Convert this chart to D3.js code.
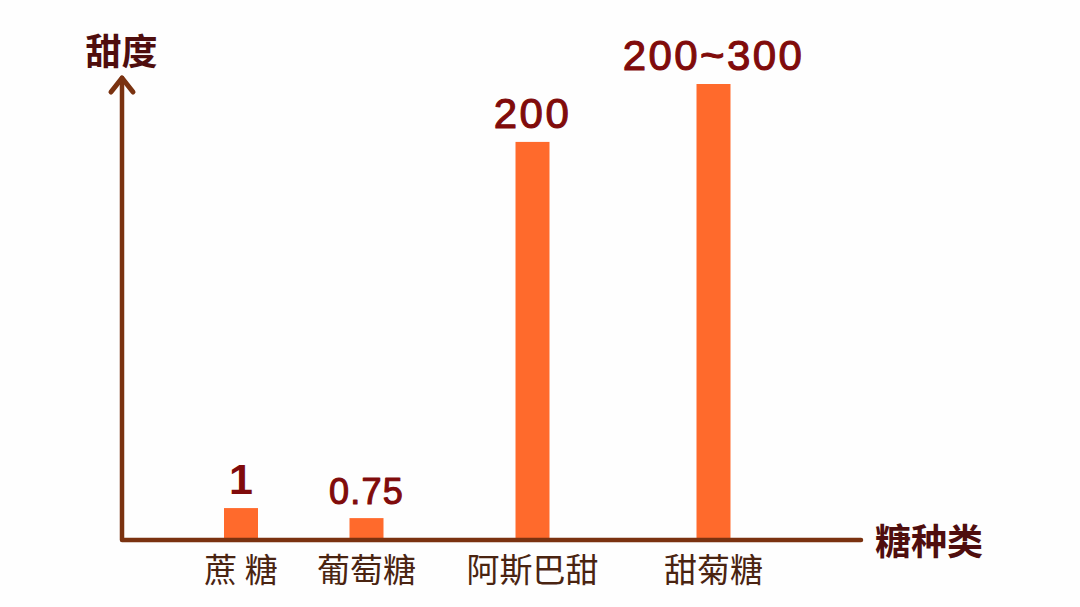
<!DOCTYPE html>
<html>
<head>
<meta charset="utf-8">
<script src="https://cdn.jsdelivr.net/npm/d3@7"></script>
<style>
  html, body { margin: 0; padding: 0; background: #fefefe; }
  svg { display: block; }
</style>
</head>
<body>
<script>
// ---- data ----
const categories = ["蔗 糖", "葡萄糖", "阿斯巴甜", "甜菊糖"];
const valueLabels = ["1", "0.75", "200", "200~300"];
// drawn bar height on a 0–100 relative scale (the picture is illustrative, not proportional)
const barHeights = [7, 4.8, 87.3, 100];
const yAxisTitle = "甜度";
const xAxisTitle = "糖种类";

// ---- layout ----
const W = 1080, H = 607;
const originX = 122, originY = 540;
const xAxisEnd = 861, yAxisTop = 78;
const barW = 34;
const catCenters = [241, 366.5, 532.5, 713.5];

const svg = d3.select("body").append("svg")
  .attr("width", W).attr("height", H);

svg.append("rect").attr("width", W).attr("height", H).attr("fill", "#fefefe");

const x = d3.scaleOrdinal().domain(categories).range(catCenters);
const y = d3.scaleLinear().domain([0, 100]).range([originY, 84]);

const axisColor = "#7a3210";

// bars
svg.selectAll("rect.bar").data(categories).join("rect")
  .attr("class", "bar")
  .attr("x", d => x(d) - barW / 2)
  .attr("width", barW)
  .attr("y", (d, i) => y(barHeights[i]))
  .attr("height", (d, i) => originY - y(barHeights[i]))
  .attr("fill", "#ff6a2c");

// axes
const axisPath = d3.path();
axisPath.moveTo(originX, yAxisTop);
axisPath.lineTo(originX, originY);
axisPath.lineTo(xAxisEnd, originY);
svg.append("path").attr("d", axisPath.toString())
  .attr("fill", "none").attr("stroke", axisColor)
  .attr("stroke-width", 4.5).attr("stroke-linecap", "round").attr("stroke-linejoin", "round");

// arrow head
const arrow = d3.path();
arrow.moveTo(originX - 11, yAxisTop + 14);
arrow.lineTo(originX, yAxisTop);
arrow.lineTo(originX + 11, yAxisTop + 14);
svg.append("path").attr("d", arrow.toString())
  .attr("fill", "none").attr("stroke", axisColor)
  .attr("stroke-width", 5).attr("stroke-linecap", "round").attr("stroke-linejoin", "round");

// value labels
svg.selectAll("text.val").data(categories).join("text")
  .attr("class", "val")
  .attr("x", d => x(d))
  .attr("y", (d, i) => y(barHeights[i]) - 14)
  .attr("text-anchor", "middle")
  .attr("font-family", "'Liberation Sans', Arial, sans-serif")
  .attr("font-weight", (d, i) => i === 0 ? 700 : 400)
  .attr("font-size", (d, i) => i === 0 ? 43 : (i === 1 ? 36 : 42))
  .attr("letter-spacing", (d, i) => i === 0 ? 0 : (i === 1 ? 1.2 : 2.4))
  .attr("fill", "#800b0b")
  .attr("stroke", "#800b0b")
  .attr("stroke-width", (d, i) => i === 0 ? 0 : 1.1)
  .attr("stroke-linejoin", "round")
  .text((d, i) => valueLabels[i]);

// category labels
svg.selectAll("text.cat").data(categories).join("text")
  .attr("class", "cat")
  .attr("x", d => x(d))
  .attr("y", 568)
  .attr("dominant-baseline", "central")
  .attr("text-anchor", "middle")
  .attr("font-family", "'Noto Sans CJK SC', sans-serif")
  .attr("font-size", 33)
  .attr("fill", "#4a2411")
  .style("white-space", "pre")
  .text(d => d);

// axis titles
svg.append("text")
  .attr("x", 121.5).attr("y", 49)
  .attr("dominant-baseline", "central")
  .attr("text-anchor", "middle")
  .attr("font-family", "'Noto Sans CJK SC', sans-serif")
  .attr("font-weight", 700)
  .attr("font-size", 36)
  .attr("fill", "#4f0e0e")
  .text(yAxisTitle);

svg.append("text")
  .attr("x", 875).attr("y", 538.5)
  .attr("dominant-baseline", "central")
  .attr("text-anchor", "start")
  .attr("font-family", "'Noto Sans CJK SC', sans-serif")
  .attr("font-weight", 700)
  .attr("font-size", 36)
  .attr("fill", "#4f0e0e")
  .text(xAxisTitle);
</script>
</body>
</html>
